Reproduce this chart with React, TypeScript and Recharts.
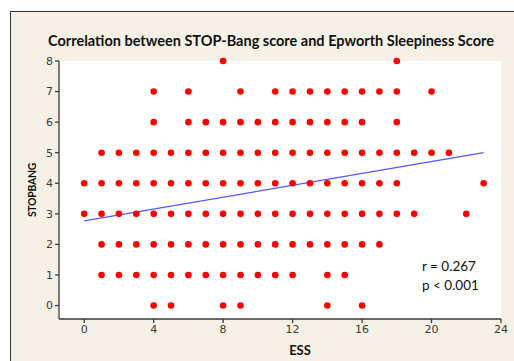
import { ScatterChart, Scatter, XAxis, YAxis, CartesianGrid } from 'recharts';

// STOP-Bang score per ESS value (each row = one STOP-Bang level)
const essAt8 = [8, 18];
const essAt7 = [4, 6, 9, 11, 12, 13, 14, 15, 16, 17, 18, 20];
const essAt6 = [4, 6, 7, 8, 9, 10, 11, 12, 13, 14, 15, 16, 18];
const essAt5 = [1, 2, 3, 4, 5, 6, 7, 8, 9, 10, 11, 12, 13, 14, 15, 16, 17, 18, 19, 20, 21];
const essAt4 = [0, 1, 2, 3, 4, 5, 6, 7, 8, 9, 10, 11, 12, 13, 14, 15, 16, 17, 18, 23];
const essAt3 = [0, 1, 2, 3, 4, 5, 6, 7, 8, 9, 10, 11, 12, 13, 14, 15, 16, 17, 18, 19, 22];
const essAt2 = [1, 2, 3, 4, 5, 6, 7, 8, 9, 10, 11, 12, 13, 14, 15, 16, 17];
const essAt1 = [1, 2, 3, 4, 5, 6, 7, 8, 9, 10, 11, 12, 14, 15];
const essAt0 = [4, 5, 8, 9, 14, 16];

const rows = [essAt0, essAt1, essAt2, essAt3, essAt4, essAt5, essAt6, essAt7, essAt8];
const points = rows.flatMap((xs, score) => xs.map((ess) => ({ x: ess, y: score })));

// fitted regression line end points
const fitEss = [0, 23];
const fitScore = [2.77, 5.0];
const fitLine = fitEss.map((x, i) => ({ x, y: fitScore[i] }));

const xTicks = [0, 4, 8, 12, 16, 20, 24];
const yTicks = [0, 1, 2, 3, 4, 5, 6, 7, 8];

const tickStyle = { fontSize: 11, fill: '#3a3a3a', fontFamily: 'DejaVu Sans' };

const Dot = (props: any) => <circle cx={props.cx} cy={props.cy} r={3.3} fill="#ff0000" />;

export default function App() {
  return (
    <div style={{ position: 'absolute', left: 0, top: 0, width: 514, height: 361, background: '#fff', overflow: 'hidden' }}>
      <div
        style={{
          position: 'absolute',
          left: 10,
          top: 11,
          right: 0,
          bottom: 0,
          background: '#f5f1e7',
          borderLeft: '1.5px solid #333',
          borderTop: '1.5px solid #333',
        }}
      />
      <div
        style={{
          position: 'absolute',
          left: 0,
          width: 542,
          top: 32,
          textAlign: 'center',
          fontFamily: 'Lato',
          fontWeight: 700,
          fontSize: 14.5,
          color: '#111',
        }}
      >
        Correlation between STOP-Bang score and Epworth Sleepiness Score
      </div>
      <div style={{ position: 'absolute', left: 0, top: 0 }}>
        <ScatterChart width={514} height={361} margin={{ top: 61, right: 13, bottom: 12, left: 0 }}>
          <CartesianGrid fill="#fff" horizontal={false} vertical={false} />
          <XAxis
            type="number"
            dataKey="x"
            domain={[-1.45, 24]}
            ticks={xTicks}
            height={30}
            tick={tickStyle}
            stroke="#3a3a3a"
            strokeWidth={1.3}
            tickSize={4}
          />
          <XAxis xAxisId="top" orientation="top" type="number" domain={[-1.45, 24]} tick={false} tickLine={false} stroke="#3a3a3a" strokeWidth={1.3} height={0} />
          <YAxis
            type="number"
            dataKey="y"
            domain={[-0.44, 8]}
            ticks={yTicks}
            width={59}
            tick={tickStyle}
            stroke="#3a3a3a"
            strokeWidth={1.3}
            tickSize={4}
          />
          <YAxis yAxisId="right" orientation="right" type="number" domain={[-0.44, 8]} tick={false} tickLine={false} stroke="#3a3a3a" strokeWidth={1.3} width={0} />
          <Scatter data={fitLine} line={{ stroke: '#5555ff', strokeWidth: 1.2 }} shape={() => null} isAnimationActive={false} />
          <Scatter data={points} shape={Dot} isAnimationActive={false} />
        </ScatterChart>
      </div>
      <div style={{ position: 'absolute', left: 32, top: 190, width: 0, height: 0 }}>
        <div
          style={{
            position: 'absolute',
            left: 0,
            top: 0,
            transform: 'translate(-50%, -50%) rotate(-90deg)',
            fontFamily: 'Lato',
            fontWeight: 700,
            fontSize: 10.5,
            letterSpacing: -0.3,
            color: '#111',
            whiteSpace: 'nowrap',
          }}
        >
          STOPBANG
        </div>
      </div>
      <div style={{ position: 'absolute', left: 300, top: 350, transform: 'translate(-50%, -50%)', fontFamily: 'Lato', fontWeight: 700, fontSize: 13, color: '#111' }}>
        ESS
      </div>
      <div style={{ position: 'absolute', left: 422, top: 257, fontFamily: 'Lato', fontSize: 13.5, lineHeight: '19px', color: '#111' }}>
        r = 0.267
        <br />p &lt; 0.001
      </div>
    </div>
  );
}
